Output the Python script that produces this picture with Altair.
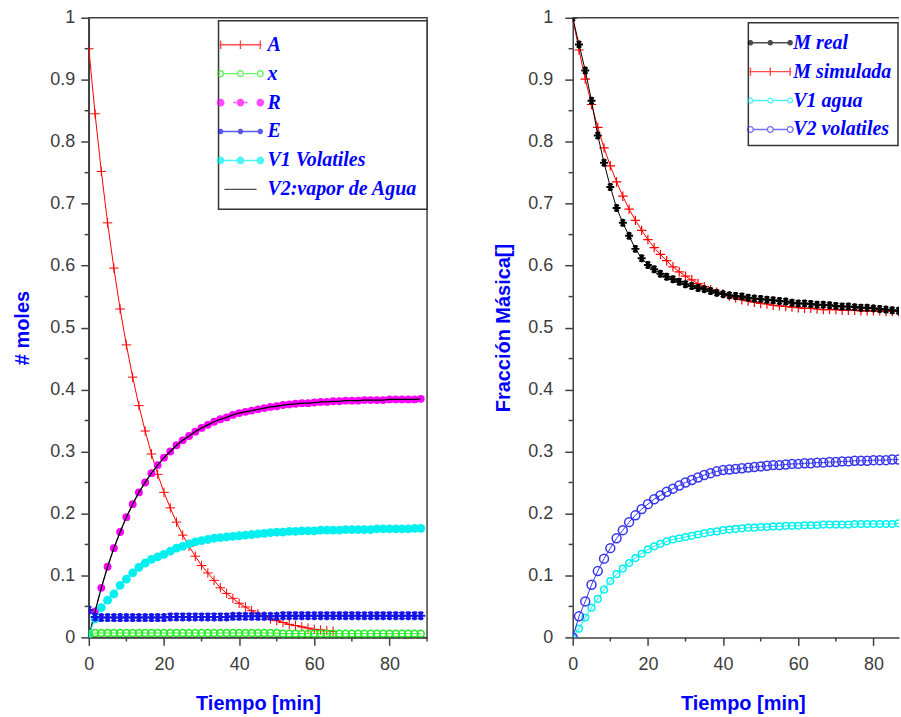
import math
import altair as alt
import pandas as pd

# ---------------- data ----------------
T = [0, 1.67, 3.33, 5, 6.67, 8.33, 10, 11.67, 13.33, 15, 16.67, 18.33, 20, 21.67, 23.33, 25,
     26.67, 28.33, 30, 31.67, 33.33, 35, 36.67, 38.33, 40, 41.67, 43.33, 45, 46.67, 48.33, 50,
     51.67, 53.33, 55, 56.67, 58.33, 60, 61.67, 63.33, 65, 66.67, 68.33, 70, 71.67, 73.33, 75,
     76.67, 78.33, 80, 81.67, 83.33, 85, 86.67, 88.33]

# left panel: moles  (A is only visible up to ~65 min)
A = [0.950, 0.845, 0.752, 0.669, 0.596, 0.530, 0.472, 0.420, 0.374, 0.333,
     0.296, 0.263, 0.234, 0.209, 0.186, 0.165, 0.147, 0.131, 0.116, 0.104,
     0.092, 0.080, 0.071, 0.063, 0.055, 0.049, 0.043, 0.038, 0.034, 0.030,
     0.027, 0.024, 0.021, 0.019, 0.017, 0.015, 0.013, 0.012, 0.011, 0.010]
X = [0.004, 0.007, 0.007, 0.007, 0.007, 0.007, 0.007, 0.007, 0.007, 0.007,
     0.007, 0.007, 0.007, 0.007, 0.007, 0.007, 0.007, 0.007, 0.007, 0.007,
     0.007, 0.007, 0.007, 0.007, 0.007, 0.007, 0.007, 0.007, 0.007, 0.007,
     0.007, 0.006, 0.006, 0.006, 0.006, 0.006, 0.006, 0.006, 0.006, 0.006,
     0.006, 0.006, 0.006, 0.006, 0.006, 0.006, 0.006, 0.006, 0.006, 0.006,
     0.006, 0.006, 0.006, 0.006]
R = [0.000, 0.042, 0.080, 0.114, 0.144, 0.170, 0.194, 0.215, 0.234, 0.250,
     0.265, 0.278, 0.290, 0.300, 0.310, 0.318, 0.325, 0.332, 0.338, 0.343,
     0.348, 0.352, 0.355, 0.359, 0.362, 0.364, 0.366, 0.368, 0.370, 0.372,
     0.373, 0.375, 0.376, 0.377, 0.378, 0.378, 0.379, 0.380, 0.380, 0.381,
     0.381, 0.382, 0.382, 0.382, 0.383, 0.383, 0.383, 0.383, 0.384, 0.384,
     0.384, 0.384, 0.384, 0.385]
E = [0.044, 0.033, 0.032, 0.032, 0.032, 0.032, 0.032, 0.032, 0.032, 0.032,
     0.032, 0.032, 0.032, 0.033, 0.033, 0.033, 0.033, 0.033, 0.033, 0.033,
     0.033, 0.033, 0.033, 0.034, 0.034, 0.034, 0.034, 0.034, 0.034, 0.034,
     0.034, 0.035, 0.035, 0.035, 0.035, 0.035, 0.035, 0.035, 0.035, 0.035,
     0.035, 0.035, 0.035, 0.035, 0.035, 0.035, 0.035, 0.035, 0.035, 0.035,
     0.035, 0.035, 0.035, 0.035]
V1 = [0.005, 0.030, 0.048, 0.060, 0.070, 0.084, 0.094, 0.104, 0.113, 0.120,
      0.126, 0.130, 0.134, 0.139, 0.144, 0.147, 0.151, 0.154, 0.156, 0.158,
      0.160, 0.161, 0.162, 0.163, 0.164, 0.165, 0.166, 0.167, 0.168, 0.169,
      0.170, 0.170, 0.171, 0.171, 0.172, 0.172, 0.172, 0.173, 0.173, 0.173,
      0.173, 0.174, 0.174, 0.174, 0.174, 0.174, 0.175, 0.175, 0.175, 0.175,
      0.175, 0.175, 0.176, 0.176]
V2 = [0.000, 0.042, 0.080, 0.114, 0.144, 0.170, 0.194, 0.215, 0.234, 0.250,
      0.265, 0.278, 0.290, 0.300, 0.310, 0.318, 0.325, 0.332, 0.338, 0.343,
      0.348, 0.352, 0.355, 0.359, 0.362, 0.364, 0.366, 0.368, 0.370, 0.372,
      0.373, 0.375, 0.376, 0.377, 0.378, 0.378, 0.379, 0.380, 0.380, 0.381,
      0.381, 0.382, 0.382, 0.382, 0.383, 0.383, 0.383, 0.383, 0.384, 0.384,
      0.384, 0.384, 0.384, 0.385]

# right panel: mass fraction
M_REAL = [1.000, 0.957, 0.915, 0.866, 0.810, 0.766, 0.727, 0.693, 0.669, 0.648,
          0.627, 0.612, 0.601, 0.594, 0.587, 0.582, 0.578, 0.574, 0.570, 0.567,
          0.564, 0.562, 0.559, 0.556, 0.554, 0.552, 0.551, 0.550, 0.548, 0.547,
          0.546, 0.545, 0.544, 0.543, 0.542, 0.540, 0.539, 0.539, 0.538, 0.537,
          0.537, 0.536, 0.535, 0.534, 0.534, 0.533, 0.532, 0.532, 0.531, 0.530,
          0.529, 0.528, 0.527, 0.527]
M_SIM = [1.000, 0.948, 0.901, 0.860, 0.823, 0.790, 0.761, 0.735, 0.712, 0.691,
         0.673, 0.657, 0.642, 0.629, 0.618, 0.608, 0.598, 0.590, 0.583, 0.577,
         0.571, 0.566, 0.561, 0.557, 0.554, 0.551, 0.548, 0.545, 0.543, 0.541,
         0.539, 0.538, 0.536, 0.535, 0.534, 0.533, 0.532, 0.531, 0.531, 0.530,
         0.529, 0.529, 0.529, 0.528, 0.528, 0.528, 0.527, 0.527, 0.527, 0.527,
         0.526, 0.526, 0.526, 0.526]
V1_AGUA = [0.000, 0.014, 0.032, 0.048, 0.062, 0.077, 0.091, 0.102, 0.111, 0.120,
           0.128, 0.135, 0.142, 0.147, 0.151, 0.155, 0.158, 0.160, 0.162, 0.164,
           0.166, 0.168, 0.170, 0.171, 0.173, 0.174, 0.175, 0.176, 0.177, 0.177,
           0.178, 0.178, 0.179, 0.179, 0.180, 0.180, 0.180, 0.181, 0.181, 0.181,
           0.182, 0.182, 0.182, 0.182, 0.182, 0.183, 0.183, 0.183, 0.183, 0.183,
           0.183, 0.183, 0.184, 0.184]
V2_VOL = [0.000, 0.034, 0.058, 0.085, 0.107, 0.127, 0.144, 0.160, 0.173, 0.186,
          0.197, 0.207, 0.215, 0.223, 0.229, 0.235, 0.240, 0.245, 0.250, 0.254,
          0.258, 0.262, 0.265, 0.268, 0.270, 0.271, 0.272, 0.273, 0.274, 0.275,
          0.276, 0.277, 0.278, 0.278, 0.279, 0.280, 0.280, 0.281, 0.281, 0.282,
          0.282, 0.283, 0.283, 0.284, 0.284, 0.285, 0.285, 0.285, 0.286, 0.286,
          0.286, 0.287, 0.287, 0.287]

NAMES_L = ["A", "x", "R", "E", "V1 Volatiles", "V2:vapor de Agua"]
NAMES_R = ["M real", "M simulada", "V1 agua", "V2 volatiles"]
X_MAJOR = [0, 20, 40, 60, 80]
X_MINOR = [10, 30, 50, 70, 90]
Y_MAJOR = [0, 0.1, 0.2, 0.3, 0.4, 0.5, 0.6, 0.7, 0.8, 0.9, 1]
Y_MINOR = [0.05, 0.15, 0.25, 0.35, 0.45, 0.55, 0.65, 0.75, 0.85, 0.95]
X_DOMAIN_L = [0, 90]
X_DOMAIN_R = [0, 86.8]   # right panel is cut at the picture edge

# ---------------- styles ----------------
RED = "#ff0000"
GREEN = "#22ee22"
MAG = "#ff00ff"
BLUE_E = "#1414e6"
CYAN = "#00f0f0"
BLACK = "#000000"
BLUE_V = "#3535ee"
TXT_BLUE = "#0000ff"
AXC = "#404040"

PLUS = "M-1,0H1M0,-1V1"
STAR = "M-1,0H1M-0.5,-0.87L0.5,0.87M-0.5,0.87L0.5,-0.87M0,-1V1"
MINOR_LEN_Y = -0.0066   # minor x-tick length expressed in y units (~4 px)
MINOR_LEN_X = -1.1      # minor y-tick length expressed in x units (~4 px)


# legend symbol geometry (unit = sqrt(symbolSize)/2 px)
def poly(cx, r, ccw=False, n=14):
    idx = range(n) if not ccw else range(n, 0, -1)
    pts = [(cx + r * math.cos(2 * math.pi * k / n), r * math.sin(2 * math.pi * k / n)) for k in idx]
    return "M" + "L".join(f"{px:.3f},{py:.3f}" for px, py in pts) + "Z"


def rect(x0, x1, h=0.05):
    return f"M{x0:.3f},{-h:.3f}H{x1:.3f}V{h:.3f}H{x0:.3f}Z"


def vbar(cx, w=0.05, h=0.3):
    return f"M{cx - w:.3f},{-h:.3f}H{cx + w:.3f}V{h:.3f}H{cx - w:.3f}Z"


MK = [0.08, 1.5, 2.92]


def sym_plus():
    return rect(0, 3) + "".join(vbar(c) for c in MK)


def sym_rings(ro, ri):
    s = "".join(poly(c, ro) + poly(c, ri, ccw=True) for c in MK)
    s += rect(MK[0] + ro, MK[1] - ro) + rect(MK[1] + ro, MK[2] - ro)
    return s


def sym_dots(r):
    return rect(0, 3) + "".join(poly(c, r) for c in MK)


def sym_dashdots(r):
    s = "".join(poly(c, r) for c in MK)
    s += rect(MK[1] - 0.5, MK[1] - 0.3) + rect(MK[1] + 0.3, MK[1] + 0.5)
    return s


PATHS_L = [sym_plus(), sym_rings(0.26, 0.16), sym_dashdots(0.28), sym_dots(0.2),
           sym_dots(0.28), rect(0.35, 2.65)]
COLORS_L = [RED, GREEN, MAG, BLUE_E, CYAN, BLACK]
PATHS_R = [sym_dots(0.2), sym_plus(), sym_rings(0.22, 0.13), sym_rings(0.26, 0.16)]
COLORS_R = [BLACK, RED, CYAN, BLUE_V]


def x_axis(title_x=None):
    kw = dict(values=X_MAJOR, title="Tiempo [min]", tickSize=8,
              labelPadding=10, titlePadding=20, labelFlush=False, labelOverlap=False)
    if title_x is not None:
        kw["titleX"] = title_x
    return alt.Axis(**kw)


def y_axis(title, lp, tp):
    return alt.Axis(values=Y_MAJOR, title=title, tickSize=8,
                    labelExpr="format(datum.value, '~g')",
                    labelPadding=lp, titlePadding=tp, labelFlush=False, labelOverlap=False)


def make_layers(series, xa, ya, xdom, xminor):
    xsc = alt.Scale(domain=xdom, nice=False)
    ysc = alt.Scale(domain=[0, 1], nice=False)
    xenc = alt.X("t:Q", scale=xsc, axis=xa)
    yenc = alt.Y("v:Q", scale=ysc, axis=ya)
    layers = []
    for vals, st in series:
        df = pd.DataFrame({"t": T[:len(vals)], "v": vals})
        base = alt.Chart(df).encode(x=xenc, y=yenc)
        if st.get("line"):
            kw = dict(color=st["line"], strokeWidth=st.get("lw", 1), clip=True)
            if st.get("dash"):
                kw["strokeDash"] = st["dash"]
            layers.append(base.mark_line(**kw))
        if st.get("shape"):
            pk = dict(shape=st["shape"], size=st["size"], opacity=1, clip=True)
            if st.get("filled"):
                pk.update(filled=True, fill=st["color"], strokeWidth=0)
            else:
                pk.update(filled=False, stroke=st["color"], strokeWidth=st.get("sw", 1.2))
            layers.append(base.mark_point(**pk))
    # minor ticks (drawn through the same scales, just outside the plot)
    mx = pd.DataFrame({"t": xminor, "v": [0] * len(xminor), "v2": [MINOR_LEN_Y] * len(xminor)})
    layers.append(alt.Chart(mx).mark_rule(color=AXC, strokeWidth=1.5, clip=False).encode(
        x=xenc, y=yenc, y2="v2:Q"))
    my = pd.DataFrame({"t": [0] * len(Y_MINOR), "t2": [MINOR_LEN_X] * len(Y_MINOR), "v": Y_MINOR})
    layers.append(alt.Chart(my).mark_rule(color=AXC, strokeWidth=1.5, clip=False).encode(
        x=xenc, x2="t2:Q", y=yenc))
    return layers


def legend_layer(names, colors, paths, lx, ly, pad, sym_off, lab_off):
    leg = alt.Legend(title=None, orient="none", legendX=lx, legendY=ly, symbolSize=784,
                     symbolStrokeWidth=0, symbolOffset=sym_off, labelOffset=lab_off,
                     rowPadding=5, padding=pad)
    return alt.Chart(pd.DataFrame({"serie": names})).transform_filter("false").mark_point(
        filled=True).encode(
        color=alt.Color("serie:N", scale=alt.Scale(domain=names, range=colors), legend=leg),
        shape=alt.Shape("serie:N", scale=alt.Scale(domain=names, range=paths), legend=leg),
    )


left_series = [
    (A, dict(line=RED, lw=1, shape=PLUS, size=90, color=RED, sw=1)),
    (R, dict(line=MAG, lw=1, dash=[3, 3], shape="circle", size=62, color=MAG, filled=True)),
    (V2, dict(line=BLACK, lw=1.3)),
    (V1, dict(line=CYAN, lw=1, shape="circle", size=78, color=CYAN, filled=True)),
    (E, dict(line=BLUE_E, lw=1, shape=STAR, size=80, color=BLUE_E, sw=2)),
    (X, dict(line=GREEN, lw=1, shape="circle", size=48, color=GREEN, sw=1.5)),
]
right_series = [
    (V1_AGUA, dict(line=CYAN, lw=1, shape="circle", size=45, color=CYAN, sw=1.5)),
    (V2_VOL, dict(line=BLUE_V, lw=1, shape="circle", size=80, color=BLUE_V, sw=1.5)),
    (M_SIM, dict(line=RED, lw=1, shape=PLUS, size=90, color=RED, sw=1.2)),
    (M_REAL, dict(line=BLACK, lw=1, shape=STAR, size=64, color=BLACK, sw=2)),
]

left = alt.layer(
    *make_layers(left_series, x_axis(), y_axis("# moles", 6, 17), X_DOMAIN_L, X_MINOR),
    legend_layer(NAMES_L, COLORS_L, PATHS_L, 130, 3, 10, -23, 34),
).properties(width=339, height=621)

top_border = alt.Chart(pd.DataFrame({"k": [0]})).mark_rule(
    color=AXC, strokeWidth=1.5).encode(y=alt.value(0))

right = alt.layer(
    *make_layers(right_series, x_axis(170.5), y_axis("Fracción Másica[]", 12, 14), X_DOMAIN_R,
                 X_MINOR[:4]),
    top_border,
    legend_layer(NAMES_R, COLORS_R, PATHS_R, 176, 5, 6, -19, 30),
).properties(width=327, height=621, view=alt.ViewBackground(stroke="transparent"))

chart = alt.hconcat(left, right, spacing=64).resolve_scale(
    color="independent", shape="independent"
).resolve_legend(color="independent", shape="independent").properties(
    padding={"left": 12, "top": 7, "right": 0, "bottom": 0},
    background="white",
).configure_view(stroke=AXC, strokeWidth=1.5).configure_axis(
    grid=False, domainColor=AXC, domainWidth=1.5, tickColor=AXC, tickWidth=1.5,
    labelColor="#3c3c3c", labelFont="Liberation Sans", labelFontSize=18,
    titleFont="Liberation Sans", titleFontSize=20, titleFontWeight="bold", titleColor=TXT_BLUE,
).configure_legend(
    labelFont="Liberation Serif", labelFontSize=20, labelFontStyle="italic",
    labelFontWeight="bold", labelColor=TXT_BLUE, strokeColor="#333333", strokeWidth=1.5,
    fillColor="white", labelLimit=400,
)

chart.save("out.html", embed_options={"renderer": "svg", "actions": False})
